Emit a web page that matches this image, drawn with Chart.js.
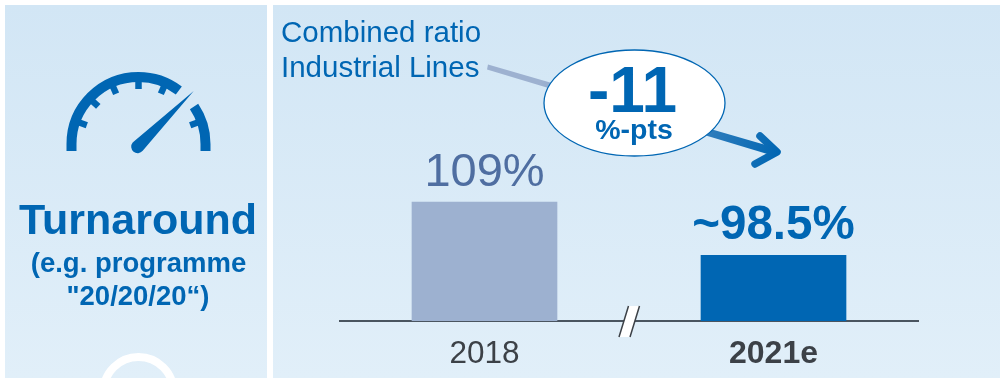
<!DOCTYPE html>
<html>
<head>
<meta charset="utf-8">
<title>Combined ratio Industrial Lines</title>
<script src="https://cdn.jsdelivr.net/npm/chart.js@4"></script>
<style>
  html, body { margin: 0; padding: 0; background: #fff; }
  canvas { display: block; }
</style>
</head>
<body>
<canvas id="chart" width="1000" height="378"></canvas>
<script>
// Data
const categories = ['2018', '2021e'];
const ratioValues = [109, 98.5];
const valueLabels = ['109%', '~98.5%'];
const barColors = ['#9db1d0', '#0066b3'];
const valueLabelColors = ['#4f6ea1', '#0066b3'];
const valueLabelFonts = ['47px', 'bold 47.5px'];

const BLUE = '#0066b3';
const SANS = '"Liberation Sans", Arial, sans-serif';

function text(ctx, str, x, y, font, color, align) {
  ctx.font = font + ' ' + SANS;
  ctx.fillStyle = color;
  ctx.textAlign = align || 'center';
  ctx.textBaseline = 'alphabetic';
  ctx.fillText(str, x, y);
}

// Background panels
function panel(ctx, x, y, w, h) {
  const g = ctx.createLinearGradient(0, y, 0, y + h);
  g.addColorStop(0, '#d2e6f5');
  g.addColorStop(1, '#e1eff9');
  ctx.fillStyle = g;
  ctx.fillRect(x, y, w, h);
}

// Speedometer icon in the side panel
function drawGauge(ctx) {
  const cx = 138.5, cy = 144, foot = 151;
  const rad = d => -d * Math.PI / 180;
  ctx.save();
  ctx.strokeStyle = BLUE;
  ctx.lineWidth = 10;
  ctx.beginPath();
  ctx.moveTo(cx - 67, foot);
  ctx.lineTo(cx - 67, cy);
  ctx.arc(cx, cy, 67, rad(180), rad(53));
  ctx.stroke();
  ctx.beginPath();
  ctx.arc(cx, cy, 67, rad(34), rad(0));
  ctx.lineTo(cx + 67, foot);
  ctx.stroke();

  ctx.lineWidth = 6.5;
  [160, 137, 114, 90, 66, 20].forEach(d => {
    const a = rad(d);
    ctx.beginPath();
    ctx.moveTo(cx + 63 * Math.cos(a), cy + 63 * Math.sin(a));
    ctx.lineTo(cx + 55 * Math.cos(a), cy + 55 * Math.sin(a));
    ctx.stroke();
  });

  // needle
  ctx.fillStyle = BLUE;
  ctx.beginPath();
  ctx.moveTo(193.7, 91);
  ctx.arc(137.7, 146.7, 6.5, Math.PI * 0.22, Math.PI * 1.28);
  ctx.closePath();
  ctx.fill();
  ctx.restore();
}

// Arrow running behind the -11 bubble
function drawTrendArrow(ctx) {
  const g = ctx.createLinearGradient(540, 82, 780, 152);
  g.addColorStop(0, '#9db1d0');
  g.addColorStop(1, BLUE);
  ctx.save();
  ctx.fillStyle = g;
  ctx.strokeStyle = g;
  ctx.lineCap = 'round';
  ctx.lineJoin = 'round';
  ctx.beginPath();
  ctx.moveTo(488, 64.5);
  ctx.lineTo(776, 148);
  ctx.lineTo(774, 156);
  ctx.lineTo(487, 69.5);
  ctx.closePath();
  ctx.fill();
  ctx.lineWidth = 7.5;
  ctx.beginPath();
  ctx.moveTo(760, 136);
  ctx.lineTo(777, 152);
  ctx.lineTo(755, 164);
  ctx.stroke();
  ctx.restore();
}

function drawBubble(ctx) {
  ctx.save();
  ctx.beginPath();
  ctx.ellipse(634.5, 103, 90.5, 53, 0, 0, Math.PI * 2);
  ctx.fillStyle = '#fff';
  ctx.fill();
  ctx.strokeStyle = BLUE;
  ctx.lineWidth = 1.3;
  ctx.stroke();
  ctx.restore();
  text(ctx, '-11', 632.5, 112, 'bold 64px', BLUE);
  text(ctx, '%-pts', 634, 139, 'bold 28.5px', BLUE);
}

// Break marker on the category axis
function drawAxisBreak(ctx) {
  ctx.save();
  ctx.beginPath();
  ctx.moveTo(628.5, 306);
  ctx.lineTo(639.5, 306);
  ctx.lineTo(630, 337);
  ctx.lineTo(619, 337);
  ctx.closePath();
  ctx.fillStyle = '#fff';
  ctx.fill();
  ctx.strokeStyle = '#3c4147';
  ctx.lineWidth = 1.5;
  ctx.beginPath();
  ctx.moveTo(628.5, 306);
  ctx.lineTo(619, 337);
  ctx.moveTo(639.5, 306);
  ctx.lineTo(630, 337);
  ctx.stroke();
  ctx.restore();
}

const backdrop = {
  id: 'backdrop',
  beforeDraw(chart) {
    const ctx = chart.ctx;
    panel(ctx, 5, 5, 262, 373);
    panel(ctx, 273, 5, 727, 373);
    drawGauge(ctx);

    text(ctx, 'Turnaround', 138, 233.5, 'bold 43px', BLUE);
    text(ctx, '(e.g. programme', 138.5, 272, 'bold 27.5px', BLUE);
    text(ctx, '"20/20/20\u201c)', 138, 305, 'bold 27.5px', BLUE);

    // ring cut off by the lower edge
    ctx.save();
    ctx.beginPath();
    ctx.arc(138.5, 392, 35, 0, Math.PI * 2);
    ctx.strokeStyle = '#fff';
    ctx.lineWidth = 8;
    ctx.stroke();
    ctx.restore();

    text(ctx, 'Combined ratio', 281, 42, '29.5px', BLUE, 'left');
    text(ctx, 'Industrial Lines', 281, 77, '29.5px', BLUE, 'left');
    drawTrendArrow(ctx);
  }
};

const overlay = {
  id: 'overlay',
  afterDraw(chart) {
    const ctx = chart.ctx;
    // values above the bars
    chart.getDatasetMeta(0).data.forEach((bar, i) => {
      text(ctx, valueLabels[i], bar.x, bar.y - 16, valueLabelFonts[i], valueLabelColors[i]);
    });
    drawBubble(ctx);
    drawAxisBreak(ctx);
  }
};

new Chart(document.getElementById('chart').getContext('2d'), {
  type: 'bar',
  data: {
    labels: categories,
    datasets: [{
      data: ratioValues,
      backgroundColor: barColors,
      borderWidth: 0,
      barThickness: 145
    }]
  },
  options: {
    responsive: false,
    animation: false,
    layout: { padding: { left: 340, right: 82, top: 5, bottom: 0 } },
    plugins: { legend: { display: false }, tooltip: { enabled: false } },
    scales: {
      x: {
        grid: { display: false, drawTicks: false },
        border: { color: '#4a5560', width: 2 },
        afterFit: scale => { scale.height = 57; },
        ticks: {
          color: '#3c4147',
          padding: 14,
          maxRotation: 0,
          font: ctx => ({
            family: SANS,
            size: ctx.index === 1 ? 32 : 31.5,
            weight: ctx.index === 1 ? 'bold' : 'normal'
          })
        }
      },
      // truncated value axis, hence the break marker
      y: { display: false, min: 85.5, max: 148 }
    }
  },
  plugins: [backdrop, overlay]
});
</script>
</body>
</html>
